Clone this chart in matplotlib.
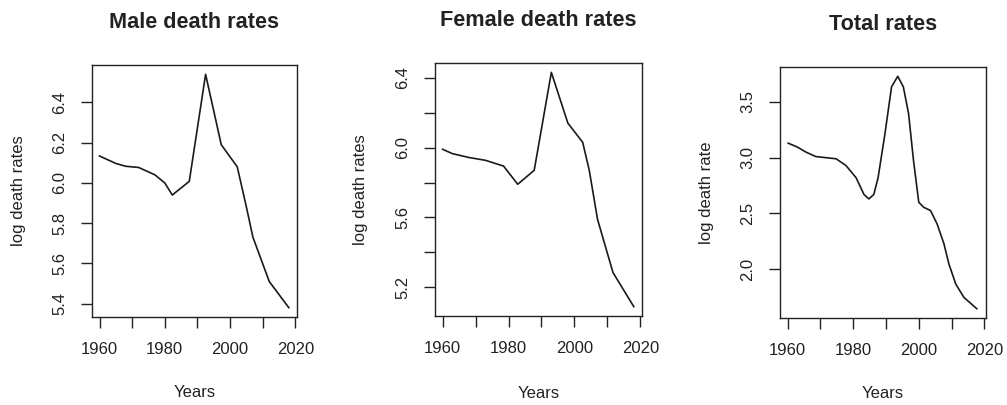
import numpy as np
import matplotlib
matplotlib.use('Agg')
import matplotlib.pyplot as plt

plt.rcParams['font.family'] = ['Liberation Sans', 'DejaVu Sans']

# values
male_years = [1960, 1965, 1968, 1972, 1977, 1980, 1982.3, 1987.5, 1992.5, 1997.3,
              2002.2, 2005, 2007, 2012, 2018]
male_rates = [6.134, 6.097, 6.083, 6.077, 6.04, 6.0, 5.94, 6.008, 6.54, 6.19,
              6.08, 5.88, 5.73, 5.51, 5.38]

female_years = [1960, 1963, 1968, 1973, 1978.5, 1982.8, 1987.8, 1993, 1998, 2002.5,
                2004.5, 2007, 2011.7, 2018]
female_rates = [5.99, 5.965, 5.943, 5.927, 5.894, 5.79, 5.87, 6.43, 6.14, 6.03,
                5.87, 5.59, 5.285, 5.09]

total_years = [1960.2, 1963, 1965.6, 1968.6, 1971.7, 1974.8, 1977.8, 1980.9, 1983.3,
               1984.8, 1986.3, 1987.6, 1989.7, 1991.7, 1993.6, 1995.3, 1996.9, 1998.4,
               2000, 2001.5, 2003.6, 2005.6, 2007.7, 2009.2, 2011.3, 2013.8, 2017.7]
total_rates = [3.13, 3.095, 3.05, 3.01, 3.0, 2.99, 2.93, 2.82, 2.67,
               2.63, 2.67, 2.82, 3.215, 3.635, 3.73, 3.635, 3.395, 2.975,
               2.6, 2.555, 2.525, 2.405, 2.225, 2.045, 1.865, 1.745, 1.645]

xticks = [1960, 1970, 1980, 1990, 2000, 2010, 2020]
xlabels = ['1960', '', '1980', '', '2000', '', '2020']

panels = [
  dict(years=male_years, rates=male_rates, title='Male death rates', ylab='log death rates',
       yticks=[5.4, 5.6, 5.8, 6.0, 6.2, 6.4], ylabels=['5.4', '5.6', '5.8', '6.0', '6.2', '6.4'],
       box=[92, 65, 297, 317], title_y=22),
  dict(years=female_years, rates=female_rates, title='Female death rates', ylab='log death rates',
       yticks=[5.2, 5.4, 5.6, 5.8, 6.0, 6.2, 6.4], ylabels=['5.2', '', '5.6', '', '6.0', '', '6.4'],
       box=[435, 63, 642, 316], title_y=21),
  dict(years=total_years, rates=total_rates, title='Total rates', ylab='log death rate',
       yticks=[2.0, 2.5, 3.0, 3.5], ylabels=['2.0', '2.5', '3.0', '3.5'],
       box=[780, 67, 986, 318], title_y=24),
]

W, H = 1007, 405
fig = plt.figure(figsize=(W/100., H/100.), dpi=100)

for p in panels:
  x0, y0, x1, y1 = p['box']
  ax = fig.add_axes([x0/W, 1-y1/H, (x1-x0)/W, (y1-y0)/H])
  ax.plot(p['years'], p['rates'], color='#1a1a1a', lw=1.2)
  ax.set_xlim(1957.7, 2020.5)
  lo, hi = min(p['rates']), max(p['rates'])
  ext = 0.04*(hi-lo)
  ax.set_ylim(lo-ext, hi+ext)
  ax.set_xticks(xticks)
  ax.set_xticklabels(xlabels, fontsize=12, color='#222222')
  ax.set_yticks(p['yticks'])
  ax.set_yticklabels(p['ylabels'], fontsize=12, rotation=90, va='center', color='#222222')
  ax.tick_params(direction='out', length=8, width=1.0, color='#222222', pad=10)
  for s in ax.spines.values():
    s.set_linewidth(1.0)
    s.set_color('#222222')
  # title centre in pixels from top of figure
  ax.text(0.5, 1 + (y0 - p['title_y'])/(y1-y0), p['title'], transform=ax.transAxes,
          ha='center', va='center', fontsize=15.6, fontweight='bold', color='#222222')
  ax.text(0.5, -(393-y1)/(y1-y0), 'Years', transform=ax.transAxes, ha='center', va='center',
          fontsize=12, color='#222222')
  ax.text(-74./(x1-x0), 0.5, p['ylab'], transform=ax.transAxes, rotation=90,
          ha='center', va='center', fontsize=12, color='#222222')

fig.savefig('out.png', dpi=100)
